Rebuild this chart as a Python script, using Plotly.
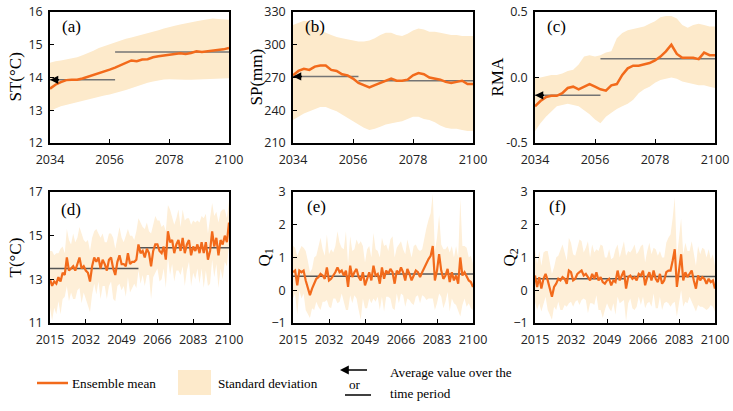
import plotly.graph_objects as go

W, H = 733, 411

# ---- data: top row (every 2 years) ----
years_top = list(range(2034, 2101, 2))

st_mean = [13.66, 13.78, 13.86, 13.92, 13.93, 13.93, 13.97, 14.02, 14.07, 14.12, 14.18, 14.24,
           14.30, 14.38, 14.46, 14.52, 14.50, 14.55, 14.56, 14.62, 14.65, 14.68, 14.70, 14.72,
           14.74, 14.72, 14.75, 14.80, 14.78, 14.80, 14.81, 14.82, 14.86, 14.90]
st_upper = [14.45, 14.5, 14.52, 14.55, 14.58, 14.62, 14.68, 14.74, 14.82, 14.9, 14.96, 15.02,
            15.08, 15.14, 15.18, 15.22, 15.26, 15.3, 15.34, 15.38, 15.44, 15.5, 15.55, 15.58,
            15.62, 15.66, 15.7, 15.72, 15.75, 15.78, 15.8, 15.79, 15.77, 15.76]
st_lower = [12.97, 13.05, 13.12, 13.17, 13.22, 13.26, 13.3, 13.33, 13.37, 13.41, 13.45, 13.48,
            13.52, 13.57, 13.62, 13.67, 13.72, 13.78, 13.84, 13.88, 13.92, 13.94, 13.95, 13.95,
            13.94, 13.93, 13.93, 13.92, 13.93, 13.94, 13.95, 13.96, 13.97, 13.98]

sp_mean = [272, 276, 278, 277, 280, 281, 281, 277, 276, 273, 272, 269, 265, 263, 261, 263, 265,
           267, 269, 267, 267, 268, 272, 274, 273, 270, 269, 268, 266, 265, 266, 267, 264, 264]
sp_upper = [318, 320, 322, 321, 318, 314, 311, 309, 307, 306, 305, 304, 303, 303, 304, 306, 309,
            311, 311, 309, 308, 310, 313, 315, 314, 312, 312, 311, 310, 309, 309, 308, 308, 308]
sp_lower = [231, 234, 237, 239, 241, 243, 243, 241, 239, 236, 233, 230, 227, 224, 222, 223, 225,
            227, 228, 229, 230, 232, 234, 234, 232, 231, 229, 226, 224, 223, 223, 222, 221, 221]

rma_mean = [-0.22, -0.18, -0.15, -0.14, -0.14, -0.12, -0.08, -0.07, -0.09, -0.07, -0.05, -0.07,
            -0.09, -0.1, -0.06, -0.05, 0.02, 0.07, 0.09, 0.09, 0.1, 0.11, 0.13, 0.16, 0.2, 0.25,
            0.18, 0.15, 0.15, 0.15, 0.14, 0.19, 0.17, 0.17]
rma_upper = [0.0, 0.0, 0.01, 0.02, 0.02, 0.03, 0.05, 0.06, 0.1, 0.16, 0.17, 0.16, 0.17, 0.19,
             0.2, 0.3, 0.34, 0.36, 0.37, 0.38, 0.39, 0.41, 0.43, 0.46, 0.47, 0.47, 0.45, 0.4,
             0.38, 0.4, 0.41, 0.4, 0.39, 0.39]
rma_lower = [-0.41, -0.35, -0.3, -0.26, -0.22, -0.21, -0.2, -0.21, -0.22, -0.25, -0.28, -0.32,
             -0.35, -0.3, -0.27, -0.24, -0.22, -0.2, -0.17, -0.12, -0.09, -0.07, -0.04, -0.02,
             -0.01, 0.0, -0.01, -0.03, -0.04, -0.05, -0.06, -0.06, -0.07, -0.08]

# ---- data: bottom row (annual) ----
years_bot = list(range(2015, 2101))

t_mean = [13.0, 12.7, 12.9, 12.8, 13.1, 12.9, 13.3, 13.2, 14.0, 13.4,
          13.5, 13.6, 13.4, 13.7, 14.0, 13.5, 13.6, 13.4, 13.3, 12.9,
          13.6, 14.0, 13.8, 14.0, 13.5, 13.9, 13.7, 13.4, 13.9, 14.0,
          13.5, 13.2, 13.8, 14.1, 13.7, 13.7, 13.6, 14.2, 13.7, 13.8,
          13.8, 13.9, 14.6, 14.2, 14.3, 14.0, 14.4, 14.2, 13.6, 14.3,
          14.6, 14.6, 14.3, 14.2, 14.5, 13.9, 15.2, 14.7, 14.8, 14.2,
          14.6, 14.8, 14.3, 14.9, 14.2, 14.6, 14.8, 14.1, 14.5, 14.3,
          14.6, 14.2, 14.7, 14.2, 14.7, 13.9, 14.3, 15.2, 14.5, 14.9,
          14.1, 14.8, 14.6, 15.0, 14.7, 15.6]
t_sd = [1.3, 1.6, 1.2, 1.4, 1.1, 1.5, 1.2, 1.0, 1.3, 1.4,
        1.1, 1.5, 1.3, 1.2, 1.4, 1.6, 1.2, 1.3, 1.5, 1.4,
        1.3, 1.2, 1.5, 1.1, 1.4, 1.2, 1.0, 1.3, 1.2, 1.1,
        1.4, 1.2, 1.1, 1.3, 1.2, 1.0, 1.4, 1.1, 1.3, 1.2,
        1.0, 1.3, 1.2, 1.4, 1.1, 1.3, 1.2, 1.0, 1.5, 1.2,
        1.3, 1.1, 1.4, 1.2, 1.0, 1.3, 1.2, 1.5, 1.1, 1.3,
        1.2, 1.4, 1.1, 1.3, 1.5, 1.2, 1.0, 1.4, 1.2, 1.3,
        1.1, 1.4, 1.2, 1.6, 1.3, 1.2, 1.5, 1.3, 1.4, 1.2,
        1.5, 1.3, 1.6, 1.2, 1.1, 1.0]

q1_mean = [0.55, 0.6, 0.15, 0.6, 0.55, 0.6, 0.3, 0.1, -0.15, 0.05,
           0.2, 0.35, 0.4, 0.5, 0.45, 0.35, 0.7, 0.3, 0.35, 0.45,
           0.55, 0.7, 0.55, 0.6, 0.45, 0.6, 0.1, 0.75, 0.4, 0.55,
           0.65, 0.4, 0.3, 0.55, 0.15, 0.35, 0.55, 0.3, 0.75, 0.45,
           0.5, 0.2, 0.7, 0.35, 0.6, 0.5, 0.65, 0.55, 0.2, 0.6,
           0.5, 0.7, 0.55, 0.3, 0.65, 0.5, 0.3, 0.45, 0.6, 0.55,
           0.4, 0.55, 0.7, 0.8, 0.95, 1.05, 1.35, 0.3, 0.6, 1.1,
           0.6, 0.35, 0.45, 0.65, 0.25, 0.55, 0.3, 0.45, 0.2, 1.0,
           0.45, 0.55, 0.4, 0.3, 0.25, 0.1]
q1_sd = [0.8, 0.7, 0.9, 0.6, 0.8, 0.7, 0.9, 0.8, 0.7, 0.6,
         0.8, 0.7, 0.9, 1.1, 0.8, 0.7, 1.0, 0.8, 0.9, 0.7,
         0.8, 1.1, 0.9, 0.7, 0.8, 1.2, 0.7, 0.9, 0.8, 0.7,
         0.9, 1.0, 1.2, 0.8, 0.7, 0.9, 0.8, 0.7, 1.0, 0.8,
         0.7, 0.8, 0.9, 1.0, 0.8, 0.7, 0.9, 1.1, 0.8, 0.7,
         0.9, 0.8, 0.7, 0.8, 0.9, 0.8, 0.7, 0.9, 0.8, 0.7,
         0.8, 0.7, 0.9, 1.1, 1.2, 1.3, 1.6, 0.9, 1.0, 1.2,
         0.8, 0.9, 0.8, 0.7, 0.9, 0.8, 0.7, 0.9, 0.8, 1.8,
         0.9, 0.8, 0.9, 0.7, 0.8, 0.7]

q2_mean = [0.45, 0.1, 0.4, 0.05, 0.35, 0.5, 0.3, 0.05, -0.2, 0.1,
           0.2, 0.35, 0.3, 0.4, 0.35, 0.2, 0.6, 0.55, 0.3, 0.35,
           0.5, 0.55, 0.6, 0.45, 0.5, 0.4, 0.3, 0.5, 0.35, 0.55,
           0.3, 0.4, 0.25, 0.2, 0.3, 0.35, 0.15, 0.3, 0.25, 0.6,
           0.3, 0.45, 0.6, 0.05, 0.4, 0.45, 0.35, 0.4, 0.3, 0.5,
           0.45, 0.6, 0.15, 0.4, 0.55, 0.3, 0.6, 0.35, 0.25, 0.5,
           0.2, 0.3, 0.55, 0.6, 0.6, 0.9, 1.25, 0.1, 0.6, 1.1,
           0.3, 0.55, 0.4, 0.5, 0.6, 0.3, 0.05, 0.45, 0.3, 0.4,
           0.35, 0.2, 0.35, 0.25, 0.3, 0.05]
q2_sd = [0.8, 0.7, 0.8, 0.7, 0.8, 0.7, 0.9, 0.8, 0.7, 0.6,
         0.8, 0.7, 0.9, 1.0, 0.8, 0.7, 1.0, 0.9, 0.8, 0.7,
         0.8, 1.0, 0.9, 0.7, 0.8, 1.1, 0.7, 0.9, 0.8, 0.7,
         0.9, 1.0, 1.1, 0.8, 0.7, 0.9, 0.8, 0.7, 1.0, 0.8,
         0.7, 0.8, 0.9, 1.0, 0.8, 0.7, 0.9, 1.0, 0.8, 0.7,
         0.9, 0.8, 0.7, 0.8, 0.9, 0.8, 0.7, 0.9, 0.8, 0.7,
         0.8, 0.7, 0.9, 1.0, 1.1, 1.3, 1.6, 0.9, 1.0, 1.1,
         0.8, 0.9, 0.8, 0.7, 0.9, 0.8, 0.7, 0.9, 0.8, 0.9,
         0.9, 0.8, 0.9, 0.7, 0.8, 0.7]

# average values over the two periods: (start, end, value)
st_avg = [(2034, 2058, 13.93), (2058, 2100, 14.78)]
sp_avg = [(2034, 2058, 271), (2058, 2100, 267)]
rma_avg = [(2034, 2058, -0.136), (2058, 2100, 0.144)]
t_avg = [(2015, 2057, 13.5), (2057, 2100, 14.45)]
q1_avg = [(2015, 2057, 0.43), (2057, 2100, 0.5)]
q2_avg = [(2015, 2057, 0.35), (2057, 2100, 0.42)]

top_ticks = [2034, 2056, 2078, 2100]
bot_ticks = [2015, 2032, 2049, 2066, 2083, 2100]

LINE = "#F26A1B"
BAND = "#FDEACB"
BAND_LIGHT = "#FEEFD8"
SERIF = "Liberation Serif"
SANS = "Open Sans"


def px_x(p):
    return p / W


def px_y(p):
    return 1 - p / H


def band_from_sd(mean, sd):
    return [m - s for m, s in zip(mean, sd)], [m + s for m, s in zip(mean, sd)]


t_lower, t_upper = band_from_sd(t_mean, t_sd)
q1_lower, q1_upper = band_from_sd(q1_mean, q1_sd)
q2_lower, q2_upper = band_from_sd(q2_mean, q2_sd)

# panel: label, title, years, mean, lower, upper, avgs, yrange, ticks, ticktext, px box, arrow, row
panels = [
    ("(a)", "ST(°C)", years_top, st_mean, st_lower, st_upper, st_avg, [12, 16], [12, 13, 14, 15, 16], None, (50, 229, 12, 143), True, 0),
    ("(b)", "SP(mm)", years_top, sp_mean, sp_lower, sp_upper, sp_avg, [210, 330], [210, 240, 270, 300, 330], None, (293, 473, 12, 143), True, 0),
    ("(c)", "RMA", years_top, rma_mean, rma_lower, rma_upper, rma_avg, [-0.5, 0.5], [-0.5, 0, 0.5], ["-0.5", "0.0", "0.5"], (535, 715, 12, 143), True, 0),
    ("(d)", "T(°C)", years_bot, t_mean, t_lower, t_upper, t_avg, [11, 17], [11, 13, 15, 17], None, (50, 229, 192, 323), False, 1),
    ("(e)", "Q<sub>1</sub>", years_bot, q1_mean, q1_lower, q1_upper, q1_avg, [-1, 3], [-1, 0, 1, 2, 3], ["−1", "0", "1", "2", "3"], (293, 473, 192, 323), False, 1),
    ("(f)", "Q<sub>2</sub>", years_bot, q2_mean, q2_lower, q2_upper, q2_avg, [-1, 3], [-1, 0, 1, 2, 3], ["−1", "0", "1", "2", "3"], (535, 715, 192, 323), False, 1),
]
title_x = [15, 256, 497, 15, 265, 510]

fig = go.Figure()
annotations = []
shapes = []

for i, (lab, ttl, yrs, mean, lower, upper, avgs, yr, yt, ytt, box, arrow, row) in enumerate(panels):
    n = "" if i == 0 else str(i + 1)
    xa, ya = "x" + n, "y" + n
    x0, x1, y0, y1 = box

    fig.add_trace(go.Scatter(x=yrs + yrs[::-1], y=upper + lower[::-1], fill="toself",
                             fillcolor=BAND if row == 0 else BAND_LIGHT, line=dict(width=0),
                             mode="lines", hoverinfo="skip", showlegend=False, xaxis=xa, yaxis=ya))
    avg_color = "#747474" if row == 0 else "#555555"
    for s, e, v in avgs:
        fig.add_trace(go.Scatter(x=[s, e], y=[v, v], mode="lines",
                                 line=dict(color=avg_color, width=1.5),
                                 showlegend=False, xaxis=xa, yaxis=ya))
    fig.add_trace(go.Scatter(x=yrs, y=mean, mode="lines",
                             line=dict(color=LINE, width=2.5 if row == 0 else 2.2),
                             showlegend=False, xaxis=xa, yaxis=ya))
    if arrow:
        s, e, v = avgs[0]
        annotations.append(dict(x=s, y=v, xref=xa, yref=ya, ax=12, ay=0, showarrow=True,
                                arrowhead=2, arrowsize=1.1, arrowwidth=1.5, arrowcolor="black",
                                text=" "))

    xticks = top_ticks if row == 0 else bot_ticks
    fig.layout["xaxis" + n] = dict(domain=[px_x(x0), px_x(x1)], anchor=ya, range=[xticks[0], xticks[-1]],
                                   tickvals=xticks, showline=True, mirror=True, linecolor="black",
                                   linewidth=1.5, ticks="inside", ticklen=4, tickcolor="black",
                                   showgrid=False, zeroline=False, ticklabelstandoff=4,
                                   automargin=False,
                                   tickfont=dict(family=SANS, size=12.5, color="#222"))
    fig.layout["yaxis" + n] = dict(domain=[px_y(y1), px_y(y0)], anchor=xa, range=yr,
                                   tickvals=yt, ticktext=ytt, showline=True, mirror=True,
                                   linecolor="black", linewidth=1.5, ticks="inside", ticklen=4,
                                   tickcolor="black", showgrid=False, zeroline=False,
                                   ticklabelstandoff=3, automargin=False,
                                   tickfont=dict(family=SANS, size=12.5, color="#222"))
    annotations.append(dict(x=px_x(title_x[i]), y=px_y((y0 + y1) / 2), xref="paper", yref="paper",
                            text=ttl, textangle=-90, showarrow=False, xanchor="center", yanchor="middle",
                            font=dict(family=SERIF, size=17, color="black")))
    lx = x0 + (10 if row == 0 else (9 if i == 3 else 12))
    ly = y0 + (14 if row == 0 else (17 if i == 3 else 14))
    annotations.append(dict(x=px_x(lx), y=px_y(ly), xref="paper", yref="paper", text=lab,
                            showarrow=False, xanchor="left", yanchor="middle",
                            font=dict(family=SERIF, size=17, color="black")))

# ---- legend row ----
legend_font = dict(family=SERIF, size=13.2, color="black")
shapes.append(dict(type="line", xref="paper", yref="paper", x0=px_x(37), x1=px_x(68),
                   y0=px_y(383), y1=px_y(383), line=dict(color=LINE, width=2.5)))
annotations.append(dict(x=px_x(70), y=px_y(383), xref="paper", yref="paper", text="Ensemble mean",
                        showarrow=False, xanchor="left", yanchor="middle", font=legend_font))
shapes.append(dict(type="rect", xref="paper", yref="paper", x0=px_x(178), x1=px_x(211),
                   y0=px_y(395), y1=px_y(370), fillcolor=BAND, line=dict(width=0)))
annotations.append(dict(x=px_x(216), y=px_y(383), xref="paper", yref="paper", text="Standard deviation",
                        showarrow=False, xanchor="left", yanchor="middle", font=legend_font))
annotations.append(dict(x=px_x(340), y=px_y(370), xref="paper", yref="paper", ax=30, ay=0,
                        showarrow=True, arrowhead=2, arrowsize=1.1, arrowwidth=1.6,
                        arrowcolor="black", text=" "))
annotations.append(dict(x=px_x(355), y=px_y(384), xref="paper", yref="paper", text="or",
                        showarrow=False, xanchor="center", yanchor="middle", font=legend_font))
shapes.append(dict(type="line", xref="paper", yref="paper", x0=px_x(345), x1=px_x(371),
                   y0=px_y(395), y1=px_y(395), line=dict(color="black", width=1.5)))
annotations.append(dict(x=px_x(388), y=px_y(372), xref="paper", yref="paper",
                        text="Average value over the", showarrow=False, xanchor="left",
                        yanchor="middle", font=legend_font))
annotations.append(dict(x=px_x(388), y=px_y(393), xref="paper", yref="paper",
                        text="time period", showarrow=False, xanchor="left",
                        yanchor="middle", font=legend_font))

fig.update_layout(width=W, height=H, margin=dict(l=0, r=0, t=0, b=0, autoexpand=False),
                  paper_bgcolor="white", plot_bgcolor="white",
                  annotations=annotations, shapes=shapes, showlegend=False)

# page body has a default 8px margin; drop it so the figure fills the window
fig.write_html("out.html", config={"displayModeBar": False},
               post_script="document.body.style.margin='0';document.body.style.overflow='hidden';")
